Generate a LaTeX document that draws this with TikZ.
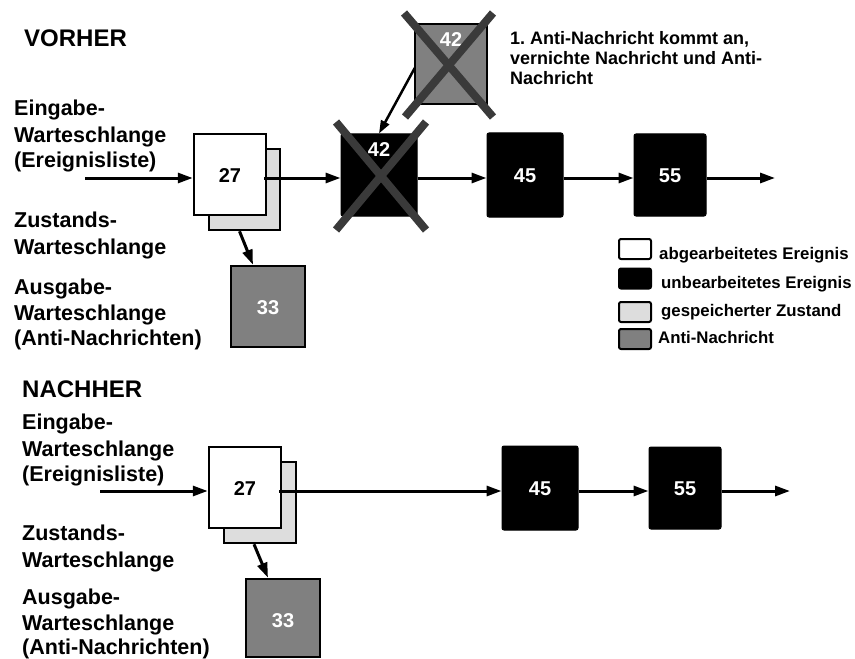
\documentclass[tikz,border=0pt]{standalone}
\usepackage{fontspec}
\setmainfont{Liberation Sans}[BoldFont={Liberation Sans Bold}]
\usetikzlibrary{arrows.meta,calc}
\frenchspacing

\definecolor{antigray}{HTML}{808080}
\definecolor{stategray}{HTML}{DDDDDD}
\definecolor{crossgray}{HTML}{3A3A3A}

\tikzset{
  headtxt/.style={anchor=base west, inner sep=0pt, font=\fontsize{24bp}{28bp}\selectfont\bfseries},
  labtxt/.style={anchor=base west, inner sep=0pt, font=\fontsize{21.5bp}{26bp}\selectfont\bfseries},
  notetxt/.style={anchor=base west, inner sep=0pt, font=\fontsize{18bp}{20bp}\selectfont\bfseries},
  legtxt/.style={anchor=base west, inner sep=0pt, font=\fontsize{16.8bp}{20bp}\selectfont\bfseries},
  numtxt/.style={inner sep=0pt, font=\fontsize{20bp}{22bp}\selectfont\bfseries},
  evbox/.style={draw=black, line width=2.5bp, inner sep=0pt},
  donebox/.style={evbox, fill=white},
  statebox/.style={evbox, fill=stategray},
  antibox/.style={evbox, fill=antigray},
  openbox/.style={draw=black, fill=black, line width=1bp, rounded corners=2bp, inner sep=0pt},
  legbox/.style={draw=black, line width=2bp, rounded corners=2bp, inner sep=0pt,
                 minimum width=32bp, minimum height=20bp},
  arr/.style={line width=3bp, -{Triangle[length=15bp,width=10bp]}},
  thinarr/.style={line width=2.5bp, -{Triangle[length=13bp,width=9bp]}},
  cross/.style={draw=crossgray, line width=8bp},
}

\begin{document}
\begin{tikzpicture}[x=1bp,y=-1bp]
\useasboundingbox (0,0) rectangle (855,659);

% ---------------- VORHER ----------------
\node[headtxt] (hv) at (24,47) {VORHER};

\node[labtxt] (v1) at (14,116) {Eingabe-};
\node[labtxt] (v2) at (14,143) {Warteschlange};
\node[labtxt] (v3) at (14,168) {(Ereignisliste)};
\node[labtxt] (v4) at (14,227) {Zustands-};
\node[labtxt] (v5) at (14,254) {Warteschlange};
\node[labtxt] (v6) at (14,294) {Ausgabe-};
\node[labtxt] (v7) at (14,320) {Warteschlange};
\node[labtxt] (v8) at (14,345) {(Anti-Nachrichten)};

\coordinate (rowA) at (0,178);
\coordinate (inA) at (85,178);
\coordinate (outA) at (775,178);

% processed event with its saved state behind it
\node[statebox, minimum width=71bp, minimum height=81bp] (sA) at (244.5,189.5) {};
\node[donebox, minimum width=72bp, minimum height=81bp] (wA) at (230,174.5) {};
\node[numtxt] (nwA) at (230,176) {27};

% unprocessed events
\node[openbox, minimum width=76bp, minimum height=82bp] (b42) at (379,175) {};
\node[numtxt, text=white] (n42) at (379,150) {42};
\node[openbox, minimum width=76bp, minimum height=84bp] (b45A) at (525,175) {};
\node[numtxt, text=white] (n45A) at (525,176) {45};
\node[openbox, minimum width=72bp, minimum height=82bp] (b55A) at (670,175) {};
\node[numtxt, text=white] (n55A) at (670,176) {55};

% incoming anti-message
\node[antibox, minimum width=72bp, minimum height=80bp] (a42) at (451,64) {};
\node[numtxt, text=white] (na42) at (451,40) {42};

% output queue
\node[antibox, minimum width=74bp, minimum height=81bp] (a33A) at (268,306.5) {};
\node[numtxt, text=white] (na33A) at (268,308) {33};

% connectors
\draw[arr] (inA) -- (inA -| wA.west);
\draw[arr] ($(wA.east |- rowA)+(-3,0)$) -- (b42.west |- rowA);
\draw[arr] (b42.east |- rowA) -- (b45A.west |- rowA);
\draw[arr] (b45A.east |- rowA) -- (b55A.west |- rowA);
\draw[arr] (b55A.east |- rowA) -- (outA);
\draw[thinarr] ($(a42.west)+(1,4)$) -- (b42.north);
\draw[arr] ($(sA.south)+(-5,0)$) -- ($(a33A.north)+(-15,0)$);

% annihilation crosses
\draw[cross] ($(b42.center)+(-43,-53)$) -- ($(b42.center)+(47,55)$);
\draw[cross] ($(b42.center)+(47,-53)$) -- ($(b42.center)+(-43,55)$);
\draw[cross] ($(a42.center)+(-47,-51)$) -- ($(a42.center)+(42,53)$);
\draw[cross] ($(a42.center)+(42,-51)$) -- ($(a42.center)+(-46,53)$);

% note
\node[notetxt] (t1) at (510,45) {1. Anti-Nachricht kommt an,};
\node[notetxt] (t2) at (510,65) {vernichte Nachricht und Anti-};
\node[notetxt] (t3) at (510,85) {Nachricht};

% legend
\node[legbox, fill=white] (lw) at (635,249) {};
\node[legtxt] (lwt) at (659,259) {abgearbeitetes Ereignis};
\node[legbox, fill=black] (lb) at (635,278.5) {};
\node[legtxt] (lbt) at (661,288) {unbearbeitetes Ereignis};
\node[legbox, fill=stategray] (ls) at (635,312) {};
\node[legtxt] (lst) at (661,316) {gespeicherter Zustand};
\node[legbox, fill=antigray] (la) at (635,339) {};
\node[legtxt] (lat) at (658,343) {Anti-Nachricht};

% ---------------- NACHHER ----------------
\node[headtxt] (hn) at (22,397) {NACHHER};

\node[labtxt] (m1) at (22,429) {Eingabe-};
\node[labtxt] (m2) at (22,456) {Warteschlange};
\node[labtxt] (m3) at (22,481) {(Ereignisliste)};
\node[labtxt] (m4) at (22,540) {Zustands-};
\node[labtxt] (m5) at (22,567) {Warteschlange};
\node[labtxt] (m6) at (22,604) {Ausgabe-};
\node[labtxt] (m7) at (22,630) {Warteschlange};
\node[labtxt] (m8) at (22,654) {(Anti-Nachrichten)};

\coordinate (rowB) at (0,491);
\coordinate (inB) at (100,491);
\coordinate (outB) at (790,491);

\node[statebox, minimum width=72bp, minimum height=81bp] (sB) at (260,502.5) {};
\node[donebox, minimum width=72bp, minimum height=81bp] (wB) at (245,487.5) {};
\node[numtxt] (nwB) at (245,489) {27};

\node[openbox, minimum width=76bp, minimum height=84bp] (b45B) at (540,488) {};
\node[numtxt, text=white] (n45B) at (540,489) {45};
\node[openbox, minimum width=72bp, minimum height=82bp] (b55B) at (685,488) {};
\node[numtxt, text=white] (n55B) at (685,489) {55};

\node[antibox, minimum width=74bp, minimum height=78bp] (a33B) at (283,618) {};
\node[numtxt, text=white] (na33B) at (283,621) {33};

\draw[arr] (inB) -- (inB -| wB.west);
\draw[arr] ($(wB.east |- rowB)+(-3,0)$) -- (b45B.west |- rowB);
\draw[arr] (b45B.east |- rowB) -- (b55B.west |- rowB);
\draw[arr] (b55B.east |- rowB) -- (outB);
\draw[arr] ($(sB.south)+(-6,0)$) -- ($(a33B.north)+(-15,0)$);
\end{tikzpicture}
\end{document}
